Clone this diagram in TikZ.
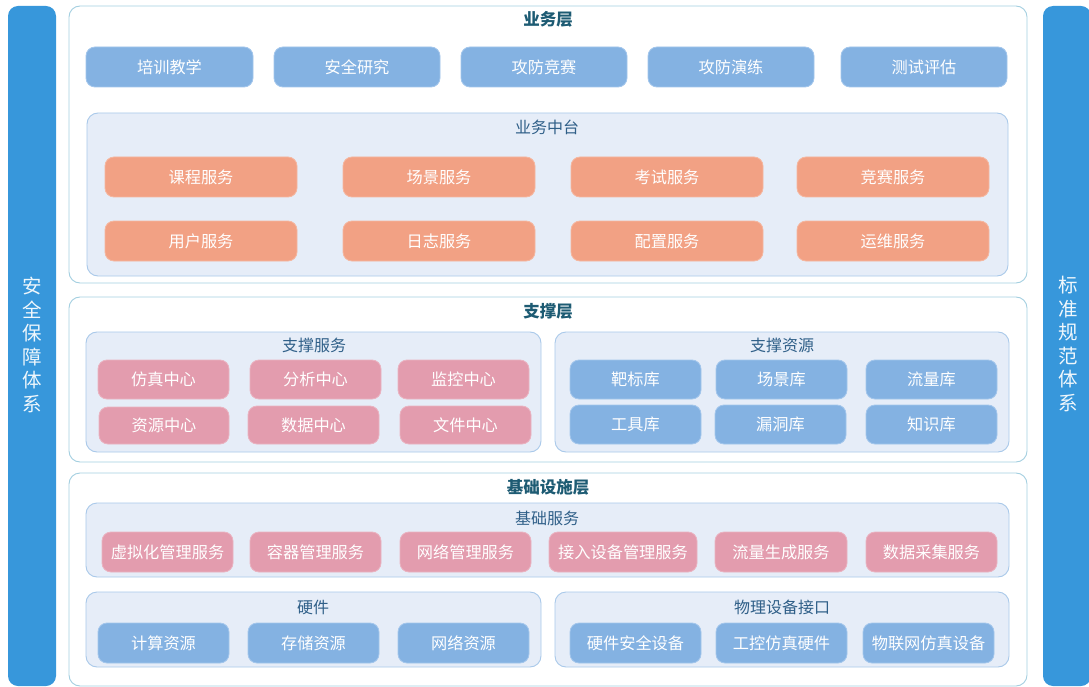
\documentclass[tikz,border=0pt]{standalone}
\usepackage{fontspec}
\setmainfont{Noto Sans CJK SC}
\begin{document}
\begin{tikzpicture}[x=1pt,y=-1pt,
  base/.style={rectangle, rounded corners=9pt, inner sep=0pt, font=\fontsize{16.2}{18}\selectfont, text=white},
  bluebox/.style={base, fill=boxblue, draw=boxblueedge, line width=0.8pt},
  orangebox/.style={base, fill=boxorange, draw=boxorangeedge, line width=0.8pt},
  pinkbox/.style={base, fill=boxpink, draw=boxpinkedge, line width=0.8pt},
  layerbox/.style={rectangle, rounded corners=11pt, fill=white, draw=layeredge, line width=0.9pt},
  groupbox/.style={rectangle, rounded corners=11pt, fill=groupfill, draw=groupedge, line width=0.9pt},
  sidebar/.style={rectangle, rounded corners=10pt, fill=barblue, draw=none},
  layertitle/.style={font=\fontsize{16.5}{18}\selectfont\bfseries, text=titleteal},
  grouptitle/.style={font=\fontsize{16}{18}\selectfont, text=groupblue},
  sidetext/.style={font=\fontsize{19.5}{23.5}\selectfont, text=white!92!barblue, align=center}
]
\definecolor{barblue}{HTML}{3797DB}
\definecolor{boxblue}{HTML}{84B2E2}
\definecolor{boxblueedge}{HTML}{A3C6EC}
\definecolor{boxorange}{HTML}{F2A184}
\definecolor{boxorangeedge}{HTML}{F5B7A0}
\definecolor{boxpink}{HTML}{E39CAE}
\definecolor{boxpinkedge}{HTML}{EAB3C1}
\definecolor{layeredge}{HTML}{A3CFE0}
\definecolor{groupfill}{HTML}{E6EDF8}
\definecolor{groupedge}{HTML}{A9C9EA}
\definecolor{titleteal}{HTML}{1D5B73}
\definecolor{groupblue}{HTML}{2F5F88}
\useasboundingbox (0,0) rectangle (1089,687);
\newcommand\bx[7]{\node[#1,minimum width={(#5-#3)*1pt},minimum height={(#6-#4)*1pt}] (#2) at ({(#3+#5)/2},{(#4+#6)/2}) {#7};}

% side bars
\bx{sidebar}{lbar}{8}{6}{56}{686}{}
\bx{sidebar}{rbar}{1043}{6}{1091}{686}{}
\node[sidetext] (ltext) at (32,345) {安\\全\\保\\障\\体\\系};
\node[sidetext] (rtext) at (1068,344) {标\\准\\规\\范\\体\\系};

% layer 1
\bx{layerbox}{L1}{69}{6}{1027}{283}{}
\node[layertitle] (t1) at (548,19) {业务层};
\bx{bluebox}{a1}{86}{47}{253}{87}{培训教学}
\bx{bluebox}{a2}{274}{47}{440}{87}{安全研究}
\bx{bluebox}{a3}{461}{47}{627}{87}{攻防竞赛}
\bx{bluebox}{a4}{648}{47}{814}{87}{攻防演练}
\bx{bluebox}{a5}{841}{47}{1007}{87}{测试评估}
\bx{groupbox}{G1}{87}{113}{1008}{276}{}
\node[grouptitle] (g1t) at (547,127) {业务中台};
\bx{orangebox}{b1}{105}{157}{297}{197}{课程服务}
\bx{orangebox}{b2}{343}{157}{535}{197}{场景服务}
\bx{orangebox}{b3}{571}{157}{763}{197}{考试服务}
\bx{orangebox}{b4}{797}{157}{989}{197}{竞赛服务}
\bx{orangebox}{b5}{105}{221}{297}{261}{用户服务}
\bx{orangebox}{b6}{343}{221}{535}{261}{日志服务}
\bx{orangebox}{b7}{571}{221}{763}{261}{配置服务}
\bx{orangebox}{b8}{797}{221}{989}{261}{运维服务}

% layer 2
\bx{layerbox}{L2}{69}{297}{1027}{462}{}
\node[layertitle] (t2) at (548,311) {支撑层};
\bx{groupbox}{G2}{86}{332}{541}{452}{}
\node[grouptitle] (g2t) at (314,345) {支撑服务};
\bx{pinkbox}{c1}{98}{360}{229}{399}{仿真中心}
\bx{pinkbox}{c2}{250}{360}{381}{399}{分析中心}
\bx{pinkbox}{c3}{398}{360}{529}{399}{监控中心}
\bx{pinkbox}{c4}{99}{407}{229}{444}{资源中心}
\bx{pinkbox}{c5}{248}{406}{379}{444}{数据中心}
\bx{pinkbox}{c6}{400}{406}{531}{444}{文件中心}
\bx{groupbox}{G3}{555}{332}{1009}{452}{}
\node[grouptitle] (g3t) at (782,345) {支撑资源};
\bx{bluebox}{d1}{570}{360}{701}{399}{靶标库}
\bx{bluebox}{d2}{716}{360}{847}{399}{场景库}
\bx{bluebox}{d3}{866}{360}{997}{399}{流量库}
\bx{bluebox}{d4}{570}{405}{701}{444}{工具库}
\bx{bluebox}{d5}{715}{405}{846}{444}{漏洞库}
\bx{bluebox}{d6}{866}{405}{997}{444}{知识库}

% layer 3
\bx{layerbox}{L3}{69}{473}{1027}{686}{}
\node[layertitle] (t3) at (548,487) {基础设施层};
\bx{groupbox}{G4}{86}{503}{1009}{577}{}
\node[grouptitle] (g4t) at (547,518) {基础服务};
\bx{pinkbox}{e1}{102}{532}{233}{572}{虚拟化管理服务}
\bx{pinkbox}{e2}{250}{532}{381}{572}{容器管理服务}
\bx{pinkbox}{e3}{400}{532}{531}{572}{网络管理服务}
\bx{pinkbox}{e4}{549}{532}{697}{572}{接入设备管理服务}
\bx{pinkbox}{e5}{715}{532}{847}{572}{流量生成服务}
\bx{pinkbox}{e6}{866}{532}{997}{572}{数据采集服务}
\bx{groupbox}{G5}{86}{592}{541}{667}{}
\node[grouptitle] (g5t) at (313,607) {硬件};
\bx{bluebox}{f1}{98}{623}{229}{663}{计算资源}
\bx{bluebox}{f2}{248}{623}{379}{663}{存储资源}
\bx{bluebox}{f3}{398}{623}{529}{663}{网络资源}
\bx{groupbox}{G6}{555}{592}{1009}{667}{}
\node[grouptitle] (g6t) at (782,607) {物理设备接口};
\bx{bluebox}{h1}{570}{623}{701}{663}{硬件安全设备}
\bx{bluebox}{h2}{716}{623}{847}{663}{工控仿真硬件}
\bx{bluebox}{h3}{863}{623}{994}{663}{物联网仿真设备}
\end{tikzpicture}
\end{document}
